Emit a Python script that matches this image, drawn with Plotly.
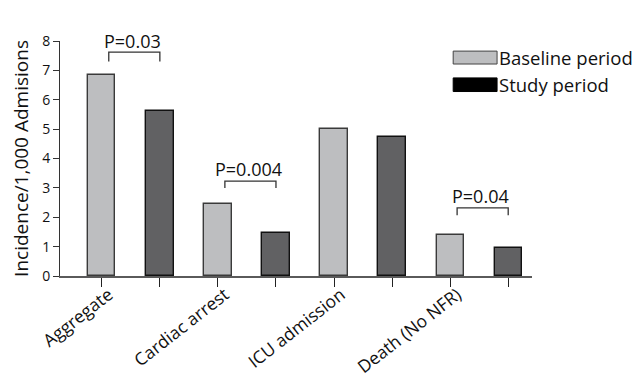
import plotly.graph_objects as go

# ---------------- data ----------------
categories = ["Aggregate", "Cardiac arrest", "ICU admission", "Death (No NFR)"]
baseline_values = [6.83, 2.44, 5.02, 1.39]
study_values = [5.63, 1.45, 4.72, 0.95]
series_names = ["Baseline period", "Study period"]

# significance brackets: (category index, p-label, bracket top, bracket drop)
p_category = [0, 1, 3]
p_labels = ["P=0.03", "P=0.004", "P=0.04"]
p_top = [7.62, 3.23, 2.32]
p_bottom = [7.30, 3.00, 2.07]
p_text_y = [8.0, 3.64, 2.74]

y_ticks = [0, 1, 2, 3, 4, 5, 6, 7, 8]

FONT = "Open Sans"
LIGHT = "#bdbec0"
DARK = "#616163"

# bar positions: baseline at 2i, study at 2i+1
base_x = [2 * i for i in range(len(categories))]
study_x = [2 * i + 1 for i in range(len(categories))]
label_x = [2 * i + 0.12 for i in range(len(categories))]

fig = go.Figure()
fig.add_trace(go.Bar(
    x=base_x, y=baseline_values, name=series_names[0], width=0.47,
    marker=dict(color=LIGHT, line=dict(color="#3a3a3a", width=1.4)),
    showlegend=False,
))
fig.add_trace(go.Bar(
    x=study_x, y=study_values, name=series_names[1], width=0.47,
    marker=dict(color=DARK, line=dict(color="#111111", width=1.4)),
    showlegend=False,
))

# brackets
for k, ci in enumerate(p_category):
    xl = 2 * ci + 0.12
    xr = 2 * ci + 1.0
    fig.add_trace(go.Scatter(
        x=[xl, xl, xr, xr], y=[p_bottom[k], p_top[k], p_top[k], p_bottom[k]],
        mode="lines", line=dict(color="#333333", width=1.3),
        showlegend=False, hoverinfo="skip", cliponaxis=False,
    ))
    fig.add_annotation(
        x=2 * ci + 0.53, y=p_text_y[k], text=p_labels[k], showarrow=False,
        xanchor="center", yanchor="middle",
        font=dict(family=FONT, size=18, color="#111111"),
    )

# custom legend (wide boxes)
legend_items = [
    (series_names[0], LIGHT, "#444444", 0.957, 0.902),
    (series_names[1], "#000000", "#000000", 0.843, 0.785),
]
for name, fill, edge, y1, y0 in legend_items:
    fig.add_shape(type="rect", xref="paper", yref="paper",
                  x0=0.833, x1=0.926, y0=y0, y1=y1,
                  fillcolor=fill, line=dict(color=edge, width=1))
    fig.add_annotation(xref="paper", yref="paper", x=0.926, y=(y0 + y1) / 2,
                       text=name, showarrow=False, xanchor="left", yanchor="middle",
                       font=dict(family=FONT, size=18.5, color="#111111"))

fig.update_layout(
    width=635, height=379,
    margin=dict(l=60, r=103, t=41, b=103),
    paper_bgcolor="white", plot_bgcolor="white",
    font=dict(family=FONT, color="#111111"),
    bargap=0,
    xaxis=dict(
        range=[-0.72, 7.41], showgrid=False, zeroline=False, automargin=False,
        showline=True, linecolor="#5a5a5a", linewidth=1.6,
        tickmode="array", tickvals=label_x, ticktext=categories,
        ticks="", tickangle=-38, tickfont=dict(family=FONT, size=17.5),
        minor=dict(tickmode="array", tickvals=base_x + study_x, ticks="outside",
                   ticklen=9, tickcolor="#222222", tickwidth=1.3, showgrid=False),
    ),
    yaxis=dict(
        range=[0, 8], showgrid=False, zeroline=False, automargin=False,
        showline=True, linecolor="#333333", linewidth=1,
        tickmode="array", tickvals=y_ticks, ticks="outside", ticklen=6,
        tickcolor="#333333", tickfont=dict(family=FONT, size=14),
        title=dict(text="Incidence/1,000 Admisions", standoff=8,
                   font=dict(family=FONT, size=19)),
    ),
)

fig.write_html("out.html")
